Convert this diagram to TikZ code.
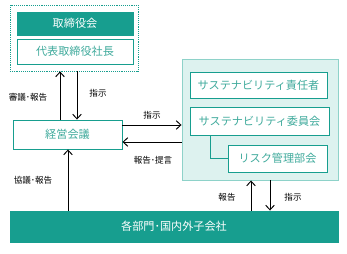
\documentclass[tikz,border=0pt]{standalone}
\usepackage{fontspec}
\setmainfont{Noto Sans CJK JP}
\usetikzlibrary{arrows.meta,positioning,calc}
\definecolor{teal}{HTML}{179E8F}
\definecolor{tealtext}{HTML}{3FAA9C}
\definecolor{lteal}{HTML}{DDF2EF}
\definecolor{mteal}{HTML}{8ED2C9}

\begin{document}
\begin{tikzpicture}[
    x=0.03cm, y=-0.03cm,
    >={Straight Barb[length=1.4mm,width=2.6mm]},
    box/.style={rectangle, draw=teal, line width=0.8pt, minimum width=3.48cm,
                font=\fontsize{9.5}{11}\selectfont, inner sep=0pt},
    solid/.style={box, fill=teal, text=white},
    plain/.style={box, fill=white, text=tealtext},
    grp/.style={rectangle, inner sep=0pt},
    lbl/.style={font=\fontsize{7.3}{9}\selectfont, inner sep=1pt},
    arr/.style={->, line width=0.8pt}
  ]
  \useasboundingbox (0,0) rectangle (347,253);

  % top group
  \node[grp, draw=teal, line width=0.7pt, dash pattern=on 0.8pt off 0.8pt,
        minimum width=3.84cm, minimum height=1.98cm] (top) at (74,38) {};
  \node[solid, minimum height=0.69cm] (bod) at (75,23.5) {取締役会};
  \node[plain, minimum height=0.75cm] (ceo) at (75,51.5) {代表取締役社長};

  \node[plain, minimum width=3.27cm, minimum height=0.87cm] (mgmt) at (67.5,134.5) {経営会議};

  % sustainability group
  \node[grp, fill=lteal, draw=mteal, line width=0.8pt, minimum width=4.68cm,
        minimum height=3.63cm] (sus) at (260,119.5) {};
  \node[plain, minimum width=4.11cm, minimum height=0.78cm] (resp) at (258.5,85) {サステナビリティ責任者};
  \node[plain, minimum width=4.17cm, minimum height=0.84cm] (comm) at (259.5,121) {サステナビリティ委員会};
  \node[plain, minimum width=2.97cm, minimum height=0.81cm] (risk) at (277.5,158.5) {リスク管理部会};

  \node[solid, minimum width=9.84cm, minimum height=0.93cm] (dept) at (174,226.5) {各部門･国内外子会社};

  \draw[teal, line width=0.8pt] (comm.south -| 210,0) |- (risk.west);

  \draw[arr] (mgmt.north -| 60,0) -- (top.south -| 60,0);
  \draw[arr] (top.south -| 77,0) -- (mgmt.north -| 77,0);
  \draw[arr] (mgmt.east |- 0,125) -- (sus.west |- 0,125);
  \draw[arr] (sus.west |- 0,142) -- (mgmt.east |- 0,142);
  \draw[arr] (dept.north -| 68,0) -- (mgmt.south -| 68,0);
  \draw[arr] (dept.north -| 251,0) -- (sus.south -| 251,0);
  \draw[arr] (sus.south -| 270,0) -- (dept.north -| 270,0);

  \node[lbl] (l1) at (28,97) {審議･報告};
  \node[lbl] (l2) at (98,93) {指示};
  \node[lbl] (l3) at (152,115) {指示};
  \node[lbl] (l4) at (153,160) {報告･提言};
  \node[lbl] (l5) at (33,180) {協議･報告};
  \node[lbl] (l6) at (227,197) {報告};
  \node[lbl] (l7) at (293,197) {指示};
\end{tikzpicture}
\end{document}
